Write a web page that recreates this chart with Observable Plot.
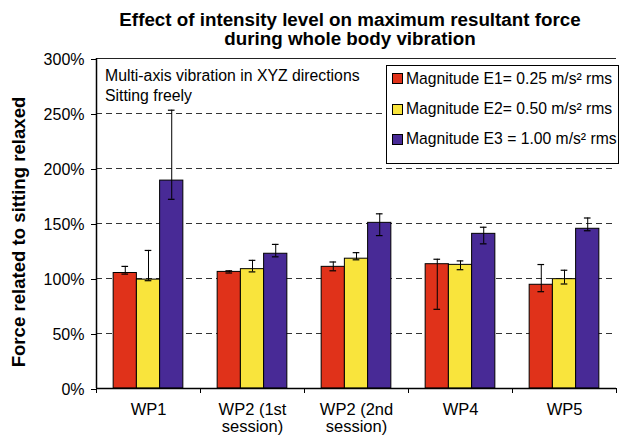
<!DOCTYPE html>
<html>
<head>
<meta charset="utf-8">
<script src="https://cdn.jsdelivr.net/npm/d3@7"></script>
<script src="https://cdn.jsdelivr.net/npm/@observablehq/plot@0.6"></script>
<style>
  body { margin: 0; background: #fff; font-family: "Liberation Sans", Arial, sans-serif; }
  #wrap { position: relative; width: 619px; height: 439px; overflow: hidden; }
  #title { height: 50px; box-sizing: border-box; padding: 10px 0 0 81px; text-align: center;
           font-weight: bold; font-size: 18.8px; line-height: 19px; color: #000; white-space: nowrap; }
  #ylabel { position: absolute; left: 19px; top: 232px; transform: translate(-50%, -50%) rotate(-90deg);
            white-space: nowrap; font-weight: bold; font-size: 18.6px; color: #000; }
  #note { position: absolute; left: 105px; top: 66px; font-size: 15.8px; line-height: 20px; color: #000; white-space: nowrap; }
  #legend { position: absolute; left: 386px; top: 65px; width: 231px; height: 97px; border: 1px solid #000;
            background: #fff; font-size: 15.7px; color: #000; }
  .item { position: absolute; left: 5px; height: 18px; display: flex; align-items: center; white-space: nowrap; }
  .sw { width: 9px; height: 9px; border: 1px solid #000; margin-right: 3px; }
</style>
</head>
<body>
<div id="wrap">
  <div id="title">Effect of intensity level on maximum resultant force<br>during whole body vibration</div>
  <div id="chart"></div>
  <div id="ylabel">Force related to sitting relaxed</div>
  <div id="note">Multi-axis vibration in XYZ directions<br>Sitting freely</div>
  <div id="legend"></div>
</div>
<script>
const categories = ["WP1", "WP2 (1st session)", "WP2 (2nd session)", "WP4", "WP5"];
const tickLabels = ["WP1", "WP2 (1st\nsession)", "WP2 (2nd\nsession)", "WP4", "WP5"];
const series = ["Magnitude E1= 0.25 m/s² rms", "Magnitude E2= 0.50 m/s² rms", "Magnitude E3 = 1.00 m/s² rms"];
const colors = ["#E0321A", "#F9E43C", "#482A96"];

const e1 = [105, 106, 110.6, 113, 94.3];
const e1Low = [104, 105, 107, 72, 88];
const e1High = [111, 107, 115, 117.5, 112.7];
const e2 = [99, 108.5, 118, 112.4, 99.4];
const e2Low = [98, 106, 117, 108, 95];
const e2High = [125.5, 116.5, 123.5, 116, 107.5];
const e3 = [189, 122.5, 150.6, 140.6, 145.2];
const e3Low = [172, 119.7, 139, 131.5, 143.4];
const e3High = [253, 131, 158.8, 146.6, 155];

const yTicks = [0, 50, 100, 150, 200, 250, 300];

const vals = [e1, e2, e3], lows = [e1Low, e2Low, e3Low], highs = [e1High, e2High, e3High];
const groupPad = 0.165, barW = (1 - 2 * groupPad) / 3, capHalf = 0.032;
const rows = [];
categories.forEach((c, i) => {
  series.forEach((s, j) => {
    const x1 = i + groupPad + j * barW;
    rows.push({cat: c, s, j, x1, x2: x1 + barW, xc: x1 + barW / 2,
               value: vals[j][i], low: lows[j][i], high: highs[j][i]});
  });
});

const chart = Plot.plot({
  width: 619,
  height: 389,
  marginTop: 8,
  marginBottom: 51,
  marginLeft: 96,
  marginRight: 3,
  style: {fontFamily: "'Liberation Sans', Arial, sans-serif", fontSize: "16px", color: "#000", background: "#fff"},
  x: {domain: [0, categories.length], axis: null},
  y: {domain: [0, 300], axis: null},
  marks: [
    Plot.ruleY(yTicks.filter(t => t > 0 && t < 300), {stroke: "#333", strokeWidth: 1, strokeDasharray: "6,4"}),
    Plot.ruleY([300], {stroke: "#222", strokeWidth: 1}),
    Plot.rect(rows, {x1: "x1", x2: "x2", y1: () => 0, y2: "value",
                     fill: d => colors[d.j], stroke: "#000", strokeWidth: 1}),
    Plot.ruleX(rows, {x: "xc", y1: "low", y2: "high", stroke: "#000", strokeWidth: 1}),
    Plot.ruleY(rows, {y: "high", x1: d => d.xc - capHalf, x2: d => d.xc + capHalf, stroke: "#000", strokeWidth: 1.2}),
    Plot.ruleY(rows, {y: "low", x1: d => d.xc - capHalf, x2: d => d.xc + capHalf, stroke: "#000", strokeWidth: 1.2}),
    Plot.axisY({ticks: yTicks, tickFormat: d => d + "%", tickSize: 5, tickPadding: 7, stroke: "#000", fontSize: 16, dy: 1}),
    Plot.axisX({ticks: d3.range(categories.length + 1), tickFormat: () => "", tickSize: 5, stroke: "#000"}),
    Plot.axisX({ticks: categories.map((c, i) => i + 0.5), tickFormat: d => tickLabels[Math.floor(d)],
                tickSize: 0, tickPadding: 15, lineHeight: 1.0, fontSize: 16.5}),
    Plot.ruleX([0], {stroke: "#000", strokeWidth: 1.5}),
    Plot.ruleY([0], {stroke: "#000", strokeWidth: 1.5})
  ]
});
document.getElementById("chart").appendChild(chart);

const legend = document.getElementById("legend");
const centers = [12.7, 43, 73];
series.forEach((s, j) => {
  const it = document.createElement("div");
  it.className = "item";
  it.style.top = (centers[j] - 9) + "px";
  it.innerHTML = `<span class="sw" style="background:${colors[j]}"></span><span>${s}</span>`;
  legend.appendChild(it);
});
</script>
</body>
</html>
